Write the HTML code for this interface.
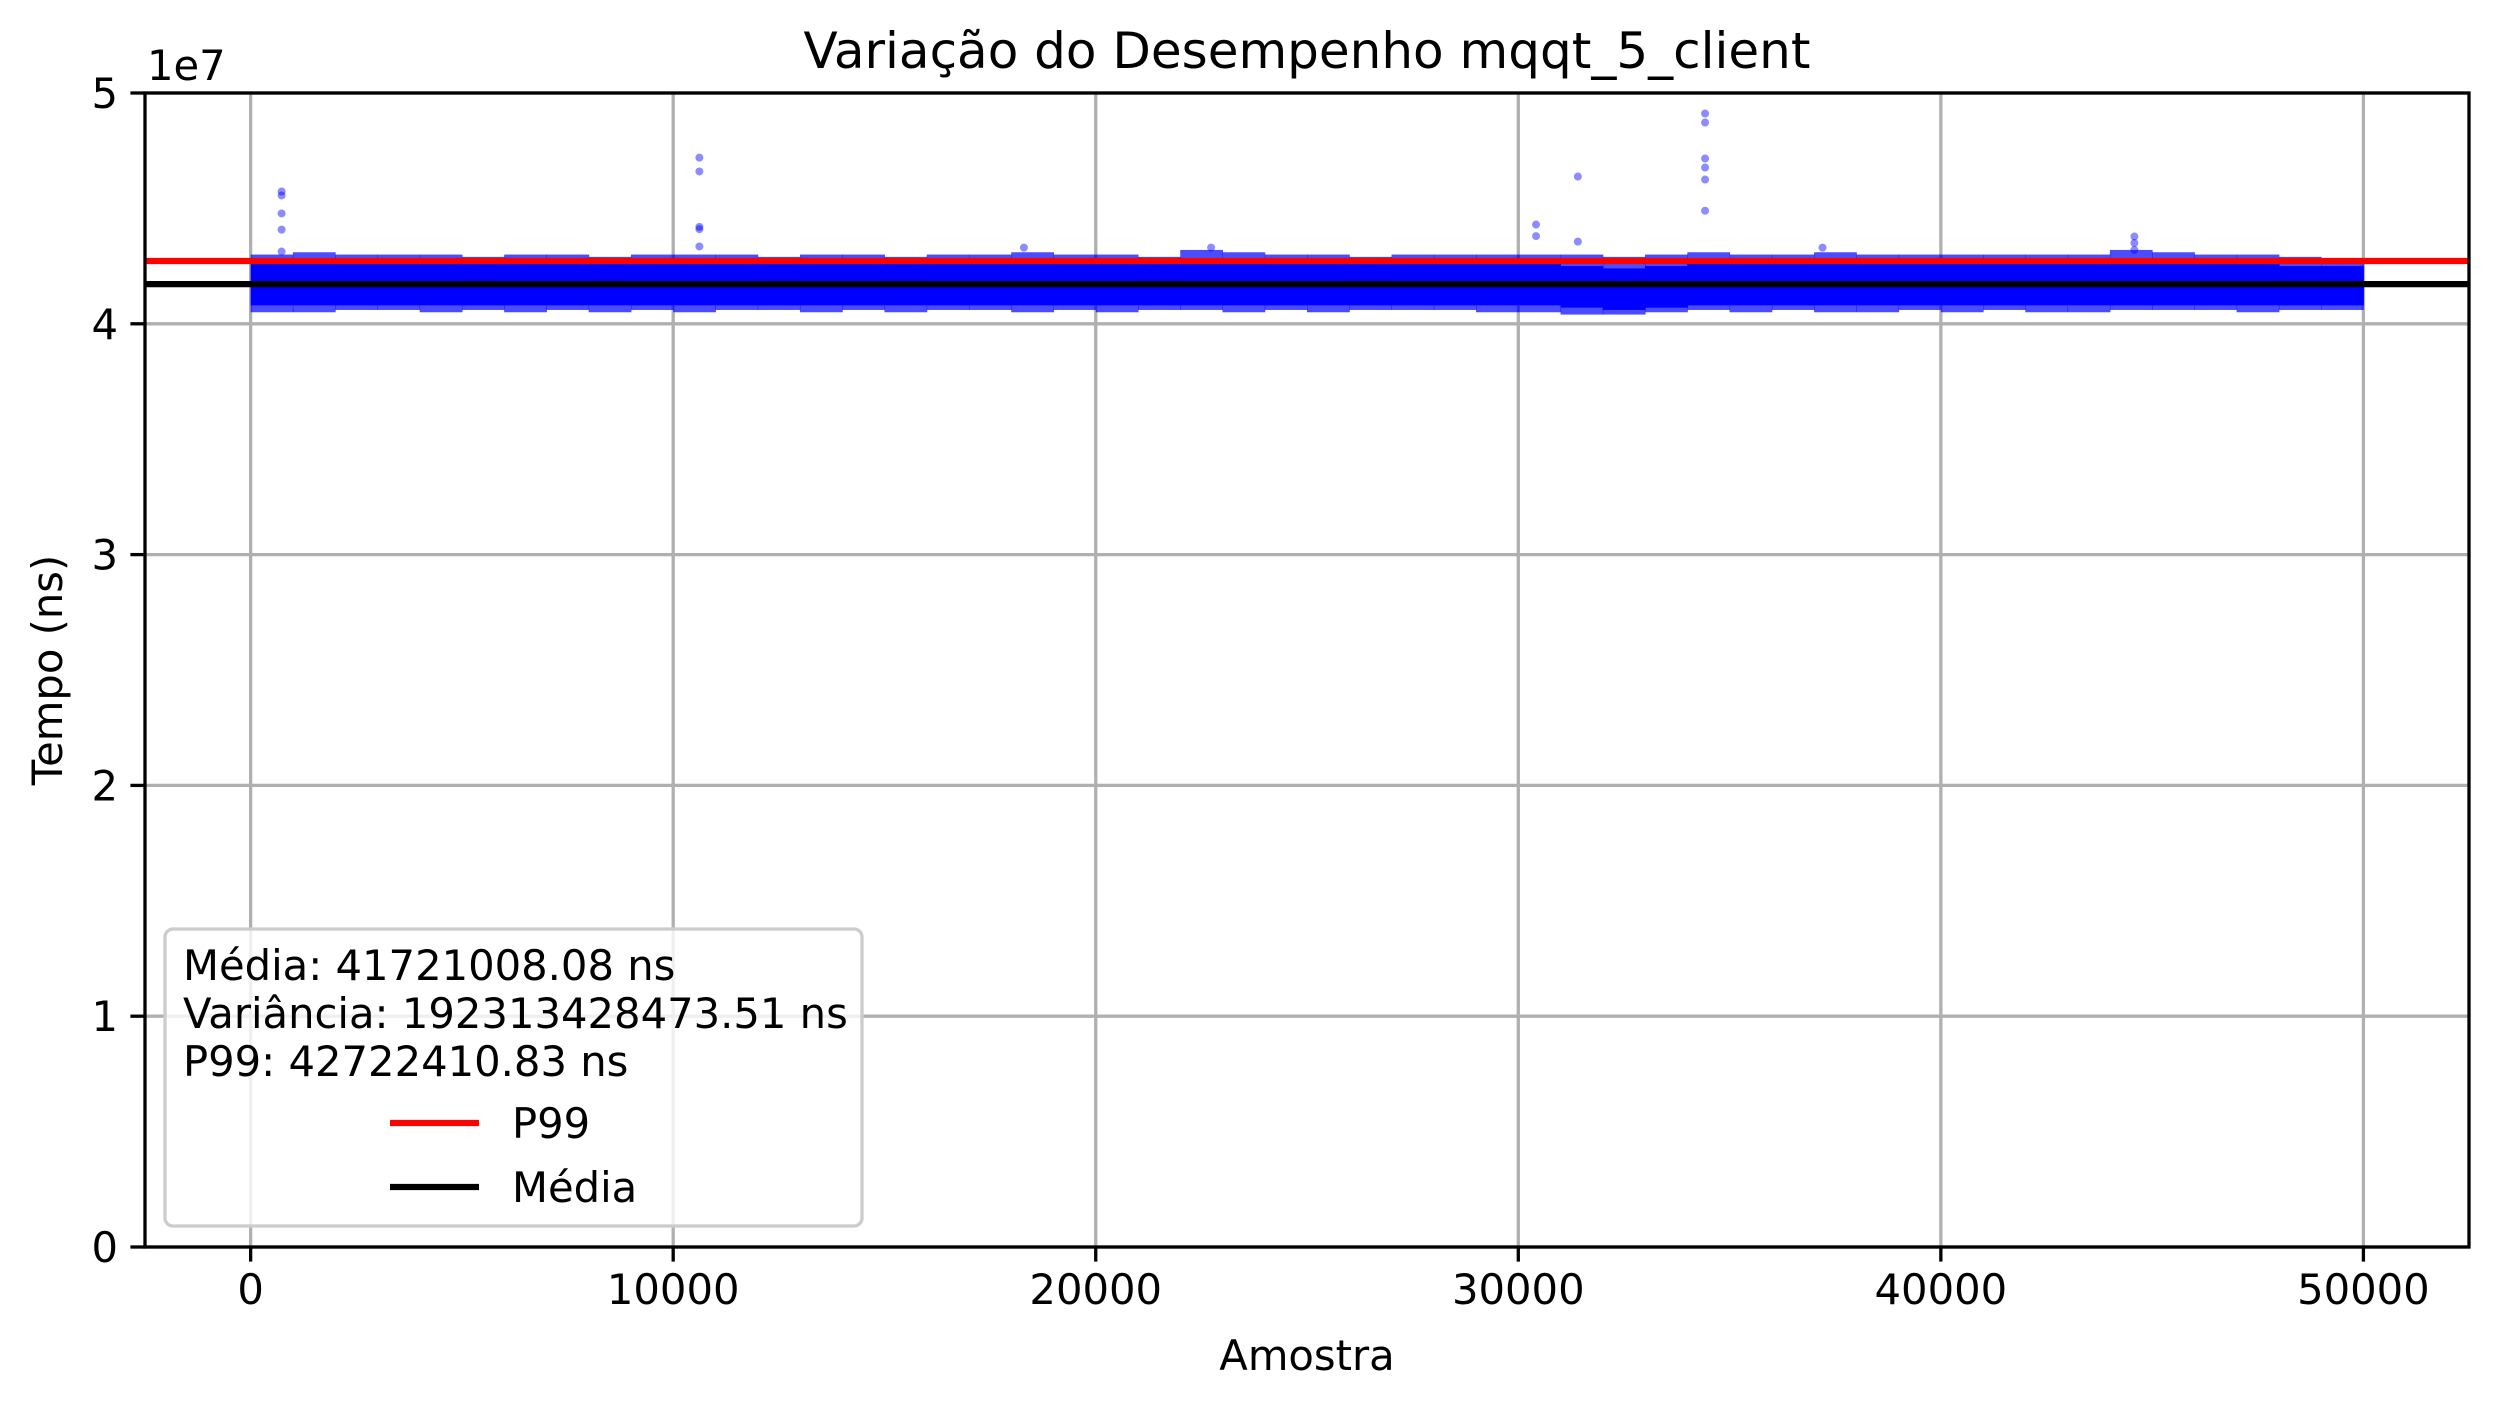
<!DOCTYPE html>
<html><head><meta charset="utf-8"><style>
html,body{margin:0;padding:0;background:#fff}
svg{display:block}
text{font-family:"DejaVu Sans","Liberation Sans",sans-serif;fill:#000}
</style></head><body>
<svg id="chart" width="2499" height="1408" viewBox="0 0 2499 1408" xmlns="http://www.w3.org/2000/svg">
<rect x="0" y="0" width="2499" height="1408" fill="#fff"/>
<g id="grid"></g>
<g id="band"></g>
<g id="lines"></g>
<g id="axes"></g>
<g id="legend"></g>
</svg>
<script>
// ---- data ----
const xTicks = [0, 10000, 20000, 30000, 40000, 50000];
const yTicks = [0, 1, 2, 3, 4, 5];
const binSize = 1000;
// per 1000-sample bin, values in 1e7 ns
const coreHi = [4.26,4.27,4.27,4.26,4.27,4.26,4.27,4.27,4.26,4.27,4.27,4.27,4.26,4.26,4.27,4.27,4.26,4.27,4.27,4.27,4.26,4.26,4.27,4.27,4.27,4.26,4.26,4.27,4.27,4.27,4.27,4.25,4.24,4.25,4.26,4.27,4.27,4.27,4.26,4.26,4.27,4.27,4.26,4.27,4.27,4.27,4.26,4.26,4.25,4.25];
const coreLo = [4.08,4.08,4.08,4.08,4.08,4.08,4.08,4.08,4.08,4.08,4.08,4.08,4.08,4.08,4.08,4.08,4.08,4.08,4.08,4.08,4.08,4.08,4.08,4.08,4.08,4.08,4.08,4.08,4.08,4.08,4.08,4.07,4.06,4.07,4.08,4.08,4.08,4.08,4.08,4.08,4.08,4.08,4.08,4.08,4.08,4.08,4.08,4.08,4.08,4.08];
const fringeHi = [4.30,4.31,4.30,4.30,4.30,4.29,4.30,4.30,4.29,4.30,4.30,4.30,4.29,4.30,4.30,4.29,4.30,4.30,4.31,4.30,4.30,4.29,4.32,4.31,4.30,4.30,4.29,4.30,4.30,4.30,4.30,4.30,4.29,4.30,4.31,4.30,4.30,4.31,4.30,4.30,4.30,4.30,4.30,4.30,4.32,4.31,4.30,4.30,4.29,4.28];
const fringeLo = [4.05,4.05,4.06,4.06,4.05,4.06,4.05,4.06,4.05,4.06,4.05,4.06,4.06,4.05,4.06,4.05,4.06,4.06,4.05,4.06,4.05,4.06,4.06,4.05,4.06,4.05,4.06,4.06,4.06,4.05,4.05,4.04,4.04,4.05,4.06,4.05,4.06,4.05,4.05,4.06,4.05,4.06,4.05,4.05,4.06,4.06,4.06,4.05,4.06,4.06];
const outX = [733,733,733,733,733,10620,10620,10620,10620,10620,30420,30420,31410,31410,34420,34420,34420,34420,34420,34420,44580,44580,44580,22730,18300,37200];
const outY = [4.573,4.556,4.478,4.408,4.313,4.72,4.66,4.42,4.41,4.335,4.43,4.38,4.638,4.356,4.911,4.872,4.716,4.677,4.625,4.49,4.378,4.35,4.32,4.33,4.33,4.33];
const meanVal = 41721008.08;
const p99Val = 42722410.83;
const varVal = 192313428473.51;

// ---- scales ----
const L=145,R=2469,T=93,B=1247;
const xMin=-2500,xMax=52499,yMin=0,yMax=5e7;
const sx=v=>L+(v-xMin)/(xMax-xMin)*(R-L);
const sy=v=>B-(v-yMin)/(yMax-yMin)*(B-T);
const NS="http://www.w3.org/2000/svg";
function mk(tag,attrs,parent){const e=document.createElementNS(NS,tag);for(const k in attrs)e.setAttribute(k,attrs[k]);parent.appendChild(e);return e;}

const grid=document.getElementById('grid');
xTicks.forEach(t=>{
  const l=mk('line',{x1:sx(t),x2:sx(t),y1:T,y2:B,stroke:'#b0b0b0','stroke-width':3.3},grid);
  
  
});
yTicks.forEach(t=>{
  const l=mk('line',{x1:L,x2:R,y1:sy(t*1e7),y2:sy(t*1e7),stroke:'#b0b0b0','stroke-width':3.3},grid);
  
  
});

const band=document.getElementById('band');
coreHi.forEach((h,i)=>{
  const x0=sx(i*binSize), x1=sx(Math.min((i+1)*binSize,49999));
  const f=mk('rect',{x:x0,y:sy(fringeHi[i]*1e7),width:x1-x0+0.5,height:sy(fringeLo[i]*1e7)-sy(fringeHi[i]*1e7),fill:'#0000ff','fill-opacity':0.7},band);
  
  
  const c=mk('rect',{x:x0,y:sy(h*1e7),width:x1-x0+0.5,height:sy(coreLo[i]*1e7)-sy(h*1e7),fill:'#0000ff'},band);
  
  
});
outX.forEach((x,i)=>{
  const p=mk('circle',{cx:sx(x),cy:sy(outY[i]*1e7),r:4,fill:'#0000ff','fill-opacity':0.45},band);
  
  
});

const lines=document.getElementById('lines');
const pl=mk('line',{x1:L,x2:R,y1:sy(p99Val),y2:sy(p99Val),stroke:'#ff0000','stroke-width':6.25},lines);


const ml=mk('line',{x1:L,x2:R,y1:sy(meanVal),y2:sy(meanVal),stroke:'#000','stroke-width':6.25},lines);



const axes=document.getElementById('axes');
const fr=mk('rect',{x:L,y:T,width:R-L,height:B-T,fill:'none',stroke:'#000','stroke-width':3.3},axes);


xTicks.forEach(t=>{
  const tk=mk('line',{x1:sx(t),x2:sx(t),y1:B,y2:B+14.6,stroke:'#000','stroke-width':3.3},axes);
  
  
  const tx=mk('text',{x:sx(t),y:B+57,'text-anchor':'middle','font-size':41.7},axes);
  tx.textContent=String(t);
  
  
});
yTicks.forEach(t=>{
  const tk=mk('line',{x1:L-14.6,x2:L,y1:sy(t*1e7),y2:sy(t*1e7),stroke:'#000','stroke-width':3.3},axes);
  
  
  const tx=mk('text',{x:L-27,y:sy(t*1e7)+15,'text-anchor':'end','font-size':41.7},axes);
  tx.textContent=String(t);
  
  
});
</script>
<script>
(function(){
const svg=document.getElementById('chart');
const NS="http://www.w3.org/2000/svg";
function t(x,y,s,size,anchor,name,extra){const e=document.createElementNS(NS,'text');e.setAttribute('x',x);e.setAttribute('y',y);e.setAttribute('font-size',size);e.setAttribute('text-anchor',anchor);if(extra)e.setAttribute('transform',extra);e.textContent=s;svg.appendChild(e);return e;}
let e;
e=t(1307,68,'Variação do Desempenho mqqt_5_client',50,'middle');


e=t(147,80,'1e7',41.7,'start');


e=t(1307,1370,'Amostra',41.7,'middle');


e=t(62,670,'Tempo (ns)',41.7,'middle','', 'rotate(-90 62 670)');



const lg=document.getElementById('legend');
const box=document.createElementNS(NS,'rect');
box.setAttribute('x',165);box.setAttribute('y',929);box.setAttribute('width',697);box.setAttribute('height',297);
box.setAttribute('rx',8);box.setAttribute('fill','#fff');box.setAttribute('fill-opacity',0.8);box.setAttribute('stroke','#cccccc');box.setAttribute('stroke-width',3.3);


lg.appendChild(box);
function lt(x,y,s,name){const e=document.createElementNS(NS,'text');e.setAttribute('x',x);e.setAttribute('y',y);e.setAttribute('font-size',41.7);e.textContent=s;lg.appendChild(e);}
lt(183,980,'Média: '+meanVal.toFixed(2)+' ns','legend-mean-text');
lt(183,1028,'Variância: '+varVal.toFixed(2)+' ns','legend-variance-text');
lt(183,1076,'P99: '+p99Val.toFixed(2)+' ns','legend-p99-text');
function ll(y,c,name){const e=document.createElementNS(NS,'line');e.setAttribute('x1',390);e.setAttribute('x2',479);e.setAttribute('y1',y);e.setAttribute('y2',y);e.setAttribute('stroke',c);e.setAttribute('stroke-width',6.25);lg.appendChild(e);}
ll(1123,'#ff0000','legend-p99-handle');
ll(1187,'#000','legend-mean-handle');
lt(512,1138,'P99','legend-entry-p99');
lt(512,1202,'Média','legend-entry-mean');
})();
</script>
</body></html>
